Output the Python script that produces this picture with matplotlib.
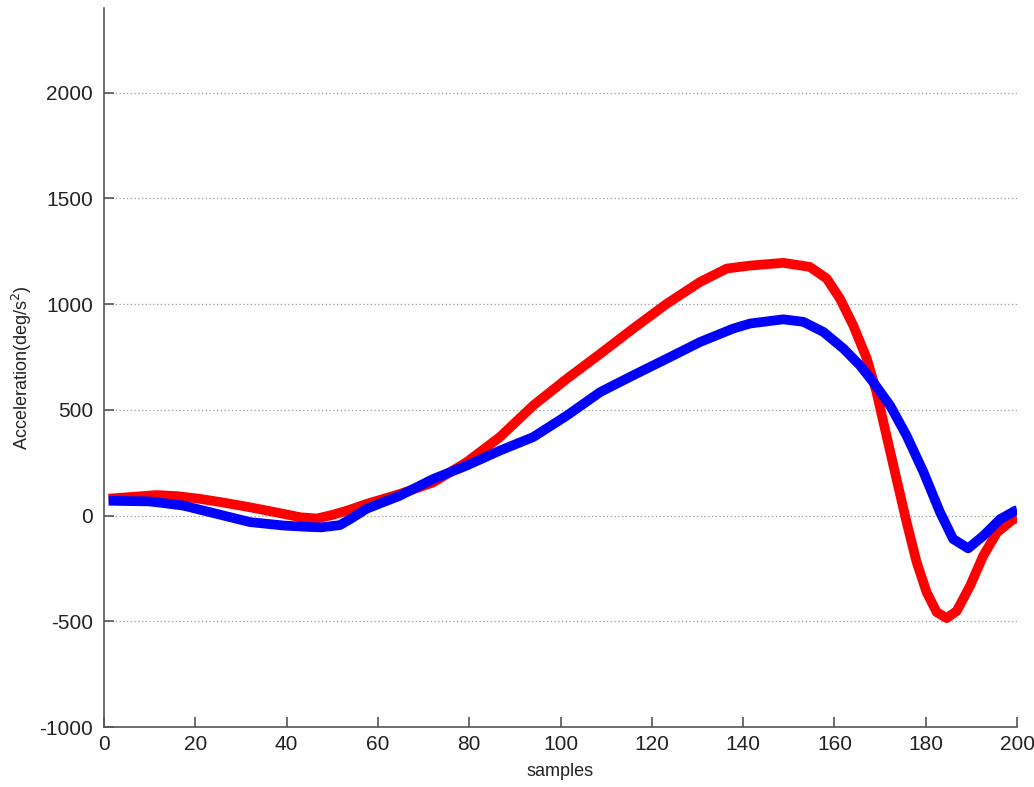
import matplotlib
matplotlib.use("Agg")
import matplotlib.pyplot as plt

red_x = [1, 6, 11.5, 16, 21, 26, 32, 37, 43, 46.6, 50, 53.5, 57.5, 64.8, 72.1, 79.4, 86.7, 94,
         101.4, 108.7, 115.9, 123.3, 130.6, 136.4, 141.5, 148.8, 154.6, 158.3, 161.2, 164.1,
         167.1, 169.2, 171.4, 173.6, 175.8, 178, 180.2, 182.4, 184.6, 186.8, 189.7, 192.6,
         195.6, 199.2, 200]
red_vals = [80, 88, 97, 92, 79, 62, 39, 18, -8, -14, 3, 25, 55, 102, 157, 252, 371, 520,
            647, 765, 884, 1002, 1105, 1168, 1182, 1195, 1176, 1121, 1026, 900,
            742, 585, 378, 173, -31, -220, -363, -457, -485, -451, -333, -190,
            -80, -17, -12]
blue_x = [1, 10, 17.4, 24.7, 32, 39.3, 44, 47.5, 51.7, 54, 57.5, 64.8, 72.1, 79.4, 86.7, 94,
          101.4, 108.7, 115.9, 123.3, 130.6, 137.8, 141.5, 148.8, 153.2, 157.6, 162, 165.6,
          168.5, 172.2, 175.8, 179.5, 183.1, 186, 189.3, 192.6, 196.3, 199.6, 200]
blue_vals = [70, 67, 47, 8, -31, -47, -53, -56, -45, -16, 32, 94, 173, 236, 307, 371,
             473, 584, 663, 742, 821, 884, 908, 928, 916, 868, 789, 710,
             631, 520, 378, 206, 17, -111, -155, -96, -17, 23, 25]
yticks = [-1000, -500, 0, 500, 1000, 1500, 2000]
xticks = [0, 20, 40, 60, 80, 100, 120, 140, 160, 180, 200]

plt.rcParams['font.family'] = ['Liberation Sans', 'DejaVu Sans']
plt.rcParams['axes.unicode_minus'] = False
fig = plt.figure(figsize=(10.34, 7.87), dpi=100)
ax = fig.add_axes([0.1006, 0.0762, 0.883, 0.9136])
ax.plot(red_x, red_vals, color='#ff0000', lw=7, solid_capstyle='butt', solid_joinstyle='round')
ax.plot(blue_x, blue_vals, color='#0000ff', lw=7, solid_capstyle='butt', solid_joinstyle='round')
ax.set_xlim(0, 200)
ax.set_ylim(-1000, 2400)
ax.set_xticks(xticks)
ax.set_yticks(yticks)
ax.yaxis.grid(True, linestyle=(0, (1, 2)), color='#999999', lw=0.9)
ax.set_axisbelow(True)
for s in ['top', 'right']:
    ax.spines[s].set_visible(False)
for s in ['left', 'bottom']:
    ax.spines[s].set_color('#555555')
    ax.spines[s].set_linewidth(1.2)
ax.tick_params(direction='in', length=7, width=1.2, color='#555555', labelsize=15, labelcolor='#222222')
ax.tick_params(axis='x', pad=6)
ax.tick_params(axis='y', pad=8)
ax.set_xlabel('samples', fontsize=13, color='#222222', labelpad=6)
ax.set_ylabel('Acceleration(deg/s$^2$)', fontsize=13, color='#222222', labelpad=4)
fig.savefig('out.png', dpi=100)
